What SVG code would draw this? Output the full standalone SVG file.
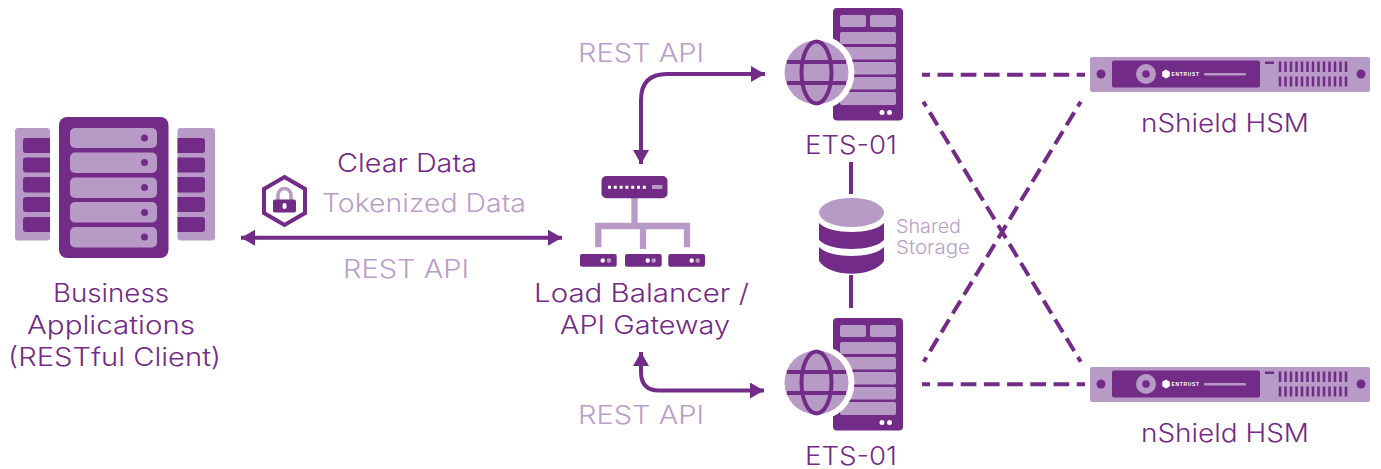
<svg xmlns="http://www.w3.org/2000/svg" width="1381" height="469" viewBox="0 0 1381 469">
<style>
text{font-family:"Inter","Liberation Sans",sans-serif;font-weight:300;font-size:25.500px;fill:#722b87}
text.l{fill:#bb9dc9}
.d{fill:#722b87}.m{fill:#b79ac6}.w{fill:#fff}
.c{fill:none;stroke:#722b87;stroke-width:4}
.ds{fill:none;stroke:#722b87;stroke-width:4;stroke-dasharray:15.700 7.500;stroke-dashoffset:7.700}
.dg{fill:none;stroke:#722b87;stroke-width:4;stroke-dasharray:15 7;stroke-dashoffset:9.500}
.st{fill:none;stroke:#b79ac6;stroke-width:6.300}
</style>
<defs>
<marker id="ah" markerUnits="userSpaceOnUse" markerWidth="15" markerHeight="16" refX="14" refY="8" orient="auto-start-reverse"><path d="M0 0L14 8L0 16Z" fill="#722b87"/></marker>
<g id="ets">
<rect class="d" x="833" y="8" width="70" height="112.500" rx="4"/>
<rect class="m" x="840" y="15" width="26" height="12" rx="2"/>
<rect class="m" x="870" y="15" width="26" height="12" rx="2"/>
<rect class="m" x="840" y="32" width="56" height="12" rx="2"/>
<rect class="m" x="840" y="47" width="56" height="12.500" rx="2"/>
<rect class="m" x="840" y="62" width="56" height="12.500" rx="2"/>
<rect class="m" x="840" y="77" width="56" height="12.500" rx="2"/>
<rect class="m" x="840" y="92" width="56" height="13" rx="2"/>
<circle class="w" cx="882" cy="112.500" r="2.500"/><circle class="w" cx="889.500" cy="112.500" r="2.500"/>
<circle class="w" cx="816.500" cy="72.500" r="38"/>
<circle class="m" cx="816.500" cy="72.500" r="32"/>
<ellipse cx="816.500" cy="72.500" rx="15" ry="31" fill="none" stroke="#722b87" stroke-width="4"/>
<path d="M787 62H846M787 83H846" fill="none" stroke="#722b87" stroke-width="4"/>
</g>
<g id="hsm">
<rect class="m" x="1090" y="57" width="280" height="35" rx="2"/>
<rect class="d" x="1112" y="60.500" width="148" height="27" rx="2"/>
<circle class="m" cx="1146" cy="74" r="10"/><circle class="d" cx="1146" cy="74" r="3.800"/>
<path class="w" d="M1166 69.500l3.800 2.200v4.600l-3.800 2.200-3.800-2.200v-4.600z"/>
<text x="1171.500" y="76" style="font-size:4.800px;font-weight:700;fill:#fff;font-family:'Liberation Sans',sans-serif" textLength="27.500">ENTRUST</text>
<rect class="m" x="1204" y="73" width="42" height="2.500" rx="1"/>
<rect class="d" x="1265" y="61.500" width="9" height="2.500"/>
<path d="M1280 61.500v10.500M1285.500 61.500v10.500M1291 61.500v10.500M1296.500 61.500v10.500M1302 61.500v10.500M1307.500 61.500v10.500M1313 61.500v10.500M1318.500 61.500v10.500M1324 61.500v10.500M1329.500 61.500v10.500M1335 61.500v10.500M1340.500 61.500v10.500M1346 61.500v10.500M1280 76.500v10M1285.500 76.500v10M1291 76.500v10M1296.500 76.500v10M1302 76.500v10M1307.500 76.500v10M1313 76.500v10M1318.500 76.500v10M1324 76.500v10M1329.500 76.500v10M1335 76.500v10M1340.500 76.500v10M1346 76.500v10" fill="none" stroke="#722b87" stroke-width="2.500"/>
<circle class="d" cx="1101" cy="74" r="4.500"/><circle class="d" cx="1361" cy="74" r="4.500"/>
</g>
</defs>
<g id="connectors">
<path class="c" d="M241 237.700H562" marker-start="url(#ah)" marker-end="url(#ah)"/>
<path class="c" d="M641 164V100Q641 74 667 74H765" marker-start="url(#ah)" marker-end="url(#ah)"/>
<path class="c" d="M641 352V372Q641 390.500 659 390.500H764" marker-start="url(#ah)" marker-end="url(#ah)"/>
<path class="c" d="M851 162V194M851 275V308"/>
<path class="ds" d="M922 74.700H1085M922 384.300H1085"/>
<path class="dg" d="M923.300 101.700L1080.700 361.700M1080.700 101.700L923.700 361.700"/>
</g>
<g id="business-applications">
<rect class="m" x="15" y="128" width="35" height="112.500" rx="3"/>
<rect class="m" x="177.500" y="128" width="37.500" height="112.500" rx="3"/>
<path class="d" d="M26 138H50V153H26a3 3 0 0 1-3-3V141a3 3 0 0 1 3-3ZM26 157.500H50V172.500H26a3 3 0 0 1-3-3V160.500a3 3 0 0 1 3-3ZM26 177H50V192.500H26a3 3 0 0 1-3-3V180a3 3 0 0 1 3-3ZM26 197H50V212H26a3 3 0 0 1-3-3V200a3 3 0 0 1 3-3ZM26 217H50V232H26a3 3 0 0 1-3-3V220a3 3 0 0 1 3-3Z"/>
<path class="d" d="M202 138H177.500V153H202a3 3 0 0 0 3-3V141a3 3 0 0 0-3-3ZM202 157.500H177.500V172.500H202a3 3 0 0 0 3-3V160.500a3 3 0 0 0-3-3ZM202 177H177.500V192.500H202a3 3 0 0 0 3-3V180a3 3 0 0 0-3-3ZM202 197H177.500V212H202a3 3 0 0 0 3-3V200a3 3 0 0 0-3-3ZM202 217H177.500V232H202a3 3 0 0 0 3-3V220a3 3 0 0 0-3-3Z"/>
<rect class="d" x="59" y="117" width="109.500" height="141" rx="8"/>
<rect class="m" x="70" y="128" width="87" height="20" rx="5"/>
<rect class="m" x="70" y="152.500" width="87" height="20.500" rx="5"/>
<rect class="m" x="70" y="177.500" width="87" height="20.500" rx="5"/>
<rect class="m" x="70" y="202" width="87" height="20.500" rx="5"/>
<rect class="m" x="70" y="227" width="87" height="20.500" rx="5"/>
<circle class="d" cx="144.500" cy="138" r="3.500"/><circle class="d" cx="144.500" cy="162.500" r="3.500"/><circle class="d" cx="144.500" cy="187.500" r="3.500"/><circle class="d" cx="144.500" cy="212.500" r="3.500"/><circle class="d" cx="144.500" cy="237" r="3.500"/>
<text x="53" y="302" textLength="116" lengthAdjust="spacingAndGlyphs">Business</text>
<text x="27" y="334" textLength="168" lengthAdjust="spacingAndGlyphs">Applications</text>
<text x="8" y="366" textLength="213" lengthAdjust="spacingAndGlyphs">(RESTful Client)</text>
</g>
<g id="data-labels">
<text x="337" y="172" textLength="140" lengthAdjust="spacingAndGlyphs">Clear Data</text>
<path d="M284.500 177L305 189V213L284.500 225L264 213V189Z" fill="none" stroke="#722b87" stroke-width="4"/>
<path d="M278 201V195a6.500 6.500 0 0 1 13 0V201" fill="none" stroke="#b79ac6" stroke-width="3.500"/>
<rect class="d" x="273" y="199.500" width="23" height="13" rx="2"/>
<rect class="w" x="282.500" y="203" width="4" height="6" rx="2"/>
<text class="l" x="322" y="212" textLength="204" lengthAdjust="spacingAndGlyphs">Tokenized Data</text>
<text class="l" x="343" y="278" textLength="126" lengthAdjust="spacingAndGlyphs">REST API</text>
</g>
<g id="load-balancer">
<path class="st" d="M634.500 198V226M598.300 247.300V226H687V247.300M643 226V249"/>
<rect class="d" x="601.500" y="176" width="66" height="22.300" rx="5"/>
<path d="M608 187.300H646" fill="none" stroke="#fff" stroke-width="3" stroke-dasharray="3 2.800"/>
<rect class="m" x="652" y="185" width="10.300" height="4"/>
<rect class="d" x="580" y="254" width="36.700" height="12.700" rx="2"/>
<rect class="d" x="625" y="254" width="36.700" height="12.700" rx="2"/>
<rect class="d" x="668.300" y="254" width="36.700" height="12.700" rx="2"/>
<circle class="w" cx="602.700" cy="260.500" r="2.200"/><circle class="m" cx="609" cy="260.500" r="2.200"/>
<circle class="w" cx="647.700" cy="260.500" r="2.200"/><circle class="m" cx="653.700" cy="260.500" r="2.200"/>
<circle class="w" cx="691.700" cy="260.500" r="2.200"/><circle class="m" cx="697.700" cy="260.500" r="2.200"/>
<text x="534" y="302" textLength="215" lengthAdjust="spacingAndGlyphs">Load Balancer /</text>
<text x="560" y="334" textLength="170" lengthAdjust="spacingAndGlyphs">API Gateway</text>
</g>
<text class="l" x="578" y="62" textLength="126" lengthAdjust="spacingAndGlyphs">REST API</text>
<text class="l" x="578" y="424" textLength="126" lengthAdjust="spacingAndGlyphs">REST API</text>
<g id="ets-top"><use href="#ets"/><text x="805" y="154" textLength="92" lengthAdjust="spacingAndGlyphs">ETS-01</text></g>
<g id="ets-bottom"><use href="#ets" y="310"/><text x="805" y="465" textLength="92" lengthAdjust="spacingAndGlyphs">ETS-01</text></g>
<g id="shared-storage">
<ellipse class="m" cx="851.500" cy="212.500" rx="32.500" ry="14.500"/>
<path class="d" d="M819 223C830 235 873 235 884 223V240C873 252 830 252 819 240Z"/>
<path class="d" d="M819 247C830 259 873 259 884 247V261C873 278 830 278 819 261Z"/>
<text class="l" x="896" y="233" style="font-size:18.500px" textLength="65" lengthAdjust="spacingAndGlyphs">Shared</text>
<text class="l" x="896" y="254" style="font-size:18.500px" textLength="74" lengthAdjust="spacingAndGlyphs">Storage</text>
</g>
<g id="hsm-top"><use href="#hsm"/><text x="1141" y="132" textLength="168" lengthAdjust="spacingAndGlyphs">nShield HSM</text></g>
<g id="hsm-bottom"><use href="#hsm" y="310"/><text x="1141" y="442" textLength="168" lengthAdjust="spacingAndGlyphs">nShield HSM</text></g>
</svg>
